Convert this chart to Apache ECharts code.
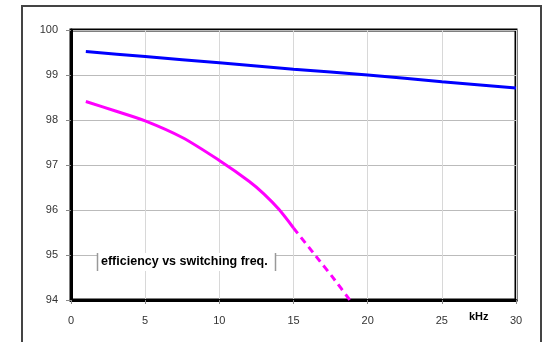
<!DOCTYPE html>
<html><head><meta charset="utf-8">
<script src="https://cdn.jsdelivr.net/npm/echarts@6/dist/echarts.min.js"></script>
<style>html,body{margin:0;padding:0;background:#fff}#c{width:546px;height:342px}</style>
</head><body><div id="c"></div>
<script>
const xTicks = [0, 5, 10, 15, 20, 25, 30];
const yTicks = [94, 95, 96, 97, 98, 99, 100];
const blueX = [1, 5, 10, 15, 20, 25, 30];
const blueY = [99.52, 99.41, 99.27, 99.13, 99.0, 98.85, 98.71];
const magX = [1, 3, 5, 7.5, 10, 12, 13, 14, 15];
const magY = [98.41, 98.2, 97.98, 97.61, 97.1, 96.64, 96.36, 96.02, 95.6];
const magDashX = [15, 16.5, 17.7, 18.8];
const magDashY = [95.6, 94.98, 94.48, 94.0];
const labelText = 'efficiency vs switching freq.';
const unitText = 'kHz';

const zip = (a, b) => a.map((v, i) => [v, b[i]]);
const chart = echarts.init(document.getElementById('c'), null, {renderer: 'canvas'});
chart.setOption({
  animation: false,
  backgroundColor: '#fff',
  grid: {left: 71, right: 30, top: 30, bottom: 42, show: true, borderColor: '#000', borderWidth: 3, backgroundColor: 'transparent'},
  xAxis: {
    type: 'value', min: xTicks[0], max: xTicks[xTicks.length - 1], interval: 5,
    axisLine: {show: true, lineStyle: {color: '#000', width: 3}},
    axisTick: {show: true, length: 4, lineStyle: {color: '#888'}},
    axisLabel: {color: '#333', fontSize: 11, fontFamily: 'Liberation Sans, Arial', margin: 15},
    splitLine: {show: true, lineStyle: {color: '#d8d8d8', width: 1}}
  },
  yAxis: {
    type: 'value', min: yTicks[0], max: yTicks[yTicks.length - 1], interval: 1,
    axisLine: {show: true, lineStyle: {color: '#000', width: 3}},
    axisTick: {show: true, length: 5, lineStyle: {color: '#888'}},
    axisLabel: {color: '#333', fontSize: 11, fontFamily: 'Liberation Sans, Arial', margin: 13},
    splitLine: {show: true, lineStyle: {color: '#bbb', width: 1}}
  },
  series: [
    {type: 'line', data: zip(blueX, blueY), smooth: 0.2, showSymbol: false, lineStyle: {color: '#0000ff', width: 3}, z: 5},
    {type: 'line', data: zip(magX, magY), smooth: 0.3, showSymbol: false, lineStyle: {color: '#ff00ff', width: 3}, z: 5},
    {type: 'line', data: zip(magDashX, magDashY), smooth: 0.2, showSymbol: false, lineStyle: {color: '#ff00ff', width: 3, type: [7, 5]}, z: 5}
  ],
  graphic: [
    {type: 'rect', shape: {x: 22, y: 6, width: 519, height: 345}, style: {fill: 'none', stroke: '#444', lineWidth: 2}, z: 100},
    {type: 'rect', shape: {x: 97, y: 253, width: 179, height: 18}, style: {fill: '#fff', stroke: 'none'}, z: 50},
    {type: 'line', shape: {x1: 97.5, y1: 253, x2: 97.5, y2: 271}, style: {stroke: '#999', lineWidth: 1.5}, z: 51},
    {type: 'line', shape: {x1: 275.5, y1: 253, x2: 275.5, y2: 271}, style: {stroke: '#999', lineWidth: 1.5}, z: 51},
    {type: 'text', x: 101, y: 262, style: {text: labelText, fill: '#000', font: 'bold 12.5px Liberation Sans, Arial', textVerticalAlign: 'middle'}, z: 52},
    {type: 'text', x: 469, y: 317, style: {text: unitText, fill: '#000', font: 'bold 11px Liberation Sans, Arial', textVerticalAlign: 'middle'}, z: 52}
  ]
});
</script></body></html>
